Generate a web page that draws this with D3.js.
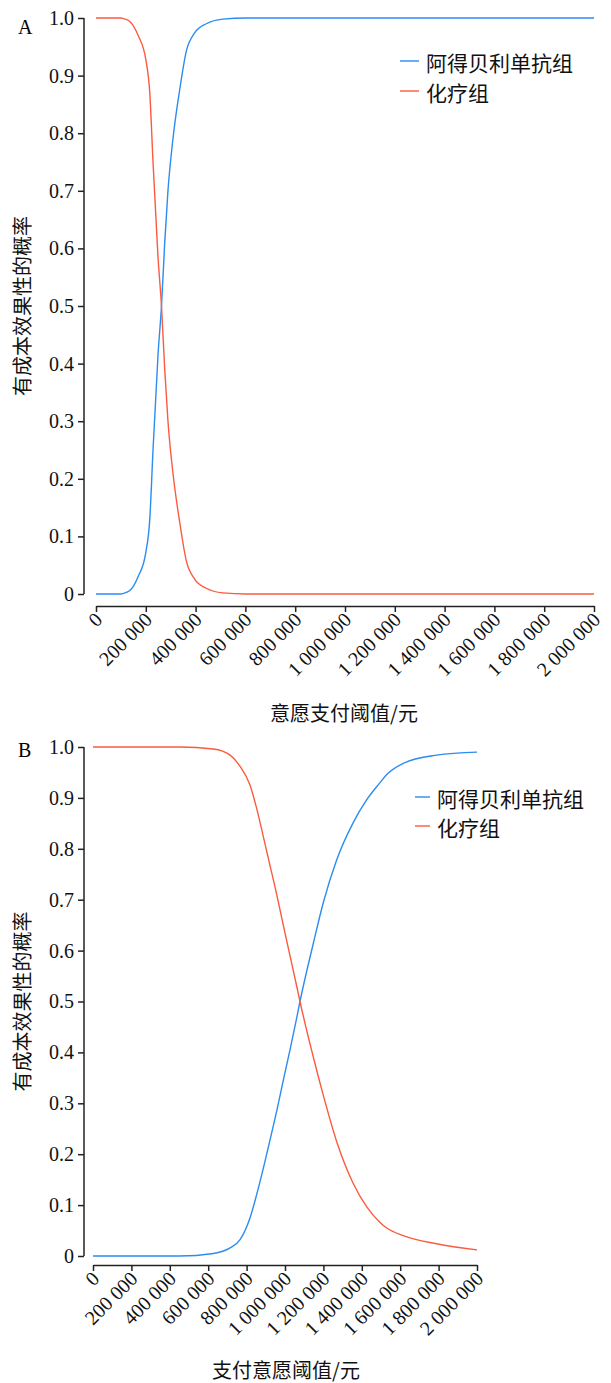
<!DOCTYPE html>
<html lang="zh">
<head>
  <meta charset="UTF-8">
  <title>成本效果可接受曲线</title>
  <script src="https://d3js.org/d3.v7.min.js"></script>
  <style>
    body { margin: 0; background: #fff; }
    .axis path, .axis line { stroke: #222; stroke-width: 1.5; }
    .axis text { font-family: "Liberation Serif", "Times New Roman", serif !important; font-size: 20px; fill: #111; }
    .cjk { font-family: "Noto Sans CJK SC", sans-serif; fill: #111; }
  </style>
</head>
<body>
<svg id="chart" width="611" height="1383"></svg>
<script>
// Panel A: willingness-to-pay threshold (yuan) and probability of being cost-effective
const wtpA = [0, 100000, 110000, 136000, 169000, 200000, 216000, 229000, 249000, 263000, 276000,
  289000, 309000, 336000, 363000, 396000, 443000, 509000, 603000, 800000, 1000000, 1200000,
  1400000, 1600000, 1800000, 2000000];
const camrelizumabA = [0, 0, 0.001, 0.006, 0.03, 0.072, 0.13, 0.25, 0.415, 0.5, 0.61,
  0.70, 0.79, 0.875, 0.943, 0.974, 0.99, 0.998, 1, 1, 1, 1, 1, 1, 1, 1];
const chemoA = [1, 1, 0.999, 0.994, 0.97, 0.928, 0.87, 0.75, 0.585, 0.5, 0.39,
  0.30, 0.21, 0.125, 0.057, 0.026, 0.01, 0.002, 0, 0, 0, 0, 0, 0, 0, 0];

// Panel B
const wtpB = [0, 450000, 627000, 714000, 766000, 818000, 852000, 887000, 922000, 957000, 991000,
  1026000, 1061000, 1078000, 1148000, 1200000, 1269000, 1356000, 1425000, 1495000, 1530000,
  1616000, 1790000, 2000000];
const camrelizumabB = [0, 0, 0.005, 0.016, 0.032, 0.075, 0.12, 0.172, 0.228, 0.285, 0.345,
  0.405, 0.468, 0.5, 0.615, 0.695, 0.778, 0.852, 0.896, 0.93, 0.946, 0.968, 0.984, 0.99];
const chemoB = [1, 1, 0.996, 0.984, 0.962, 0.925, 0.88, 0.824, 0.767, 0.71, 0.65,
  0.59, 0.53, 0.5, 0.39, 0.315, 0.225, 0.142, 0.097, 0.066, 0.055, 0.04, 0.024, 0.012];

const xTicks = d3.range(0, 2000001, 200000);
const yTicks = d3.range(0, 1.0001, 0.1);
const seriesNames = ["阿得贝利单抗组", "化疗组"];
const colors = ["#2b8cf2", "#fb5b3f"];
const serif = "'Liberation Serif', 'Times New Roman', serif";

const svg = d3.select("#chart");

function fmtX(v) {
  if (v === 0) return "0";
  // thousands separated by a space, as in the original figure
  return d3.format(",")(v).replace(/,/g, " ");
}
function fmtY(v) {
  if (Math.abs(v) < 1e-9) return "0";
  return d3.format(".1f")(v);
}

function drawPanel(p) {
  const g = svg.append("g");
  const x = d3.scaleLinear().domain([0, 2000000]).range([p.x0, p.x1]);
  const y = d3.scaleLinear().domain([0, 1]).range([p.yBottom, p.yTop]);

  // y axis
  const ya = g.append("g")
    .attr("class", "axis")
    .attr("transform", `translate(${p.yAxisX},0)`)
    .call(d3.axisLeft(y).tickValues(yTicks).tickFormat(fmtY).tickSize(6).tickSizeOuter(0).tickPadding(4));
  ya.select(".domain").attr("d", `M0,${p.yTop}V${p.yBottom}`);

  // x axis
  const xa = g.append("g")
    .attr("class", "axis")
    .attr("transform", `translate(0,${p.xAxisY})`)
    .call(d3.axisBottom(x).tickValues(xTicks).tickFormat(fmtX).tickSize(6).tickSizeOuter(0));
  xa.selectAll(".tick text")
    .attr("text-anchor", "end")
    .attr("y", 0).attr("dy", 0)
    .attr("transform", "translate(7,15) rotate(-45)");

  // curves
  const line = d3.line()
    .x(d => x(d[0]))
    .y(d => y(d[1]))
    .curve(d3.curveMonotoneX);
  p.series.forEach((s, i) => {
    g.append("path")
      .datum(p.wtp.map((w, k) => [w, s[k]]))
      .attr("fill", "none")
      .attr("stroke", colors[i])
      .attr("stroke-width", 1.4)
      .attr("d", line);
  });

  // legend
  seriesNames.forEach((name, i) => {
    const ly = p.legY + i * p.legGap;
    g.append("line")
      .attr("x1", p.legX).attr("x2", p.legX + p.legLen)
      .attr("y1", ly).attr("y2", ly)
      .attr("stroke", colors[i]).attr("stroke-width", 1.4);
    g.append("text").attr("class", "cjk")
      .attr("x", p.legX + p.legLen + 7).attr("y", ly + 10)
      .attr("font-size", 21)
      .text(name);
  });

  // panel letter
  g.append("text")
    .attr("x", 18).attr("y", p.letterY)
    .style("font-family", serif).style("font-size", "20px")
    .text(p.letter);

  // axis titles
  g.append("text").attr("class", "cjk")
    .attr("text-anchor", "middle")
    .attr("x", p.xTitleX).attr("y", p.xTitleY)
    .attr("font-size", 20)
    .text(p.xTitle);
  g.append("text").attr("class", "cjk")
    .attr("text-anchor", "middle")
    .attr("transform", `translate(30,${(p.yTop + p.yBottom) / 2}) rotate(-90)`)
    .attr("font-size", 20)
    .text("有成本效果性的概率");
}

drawPanel({
  letter: "A", letterY: 34,
  wtp: wtpA, series: [camrelizumabA, chemoA],
  x0: 96, x1: 594, yTop: 18, yBottom: 594, yAxisX: 84, xAxisY: 606,
  legX: 400, legY: 61, legGap: 30, legLen: 19,
  xTitle: "意愿支付阈值/元", xTitleX: 344, xTitleY: 721
});

drawPanel({
  letter: "B", letterY: 757,
  wtp: wtpB, series: [camrelizumabB, chemoB],
  x0: 93, x1: 477, yTop: 747, yBottom: 1256, yAxisX: 84, xAxisY: 1265,
  legX: 415, legY: 797, legGap: 29, legLen: 15,
  xTitle: "支付意愿阈值/元", xTitleX: 286, xTitleY: 1378
});
</script>
</body>
</html>
